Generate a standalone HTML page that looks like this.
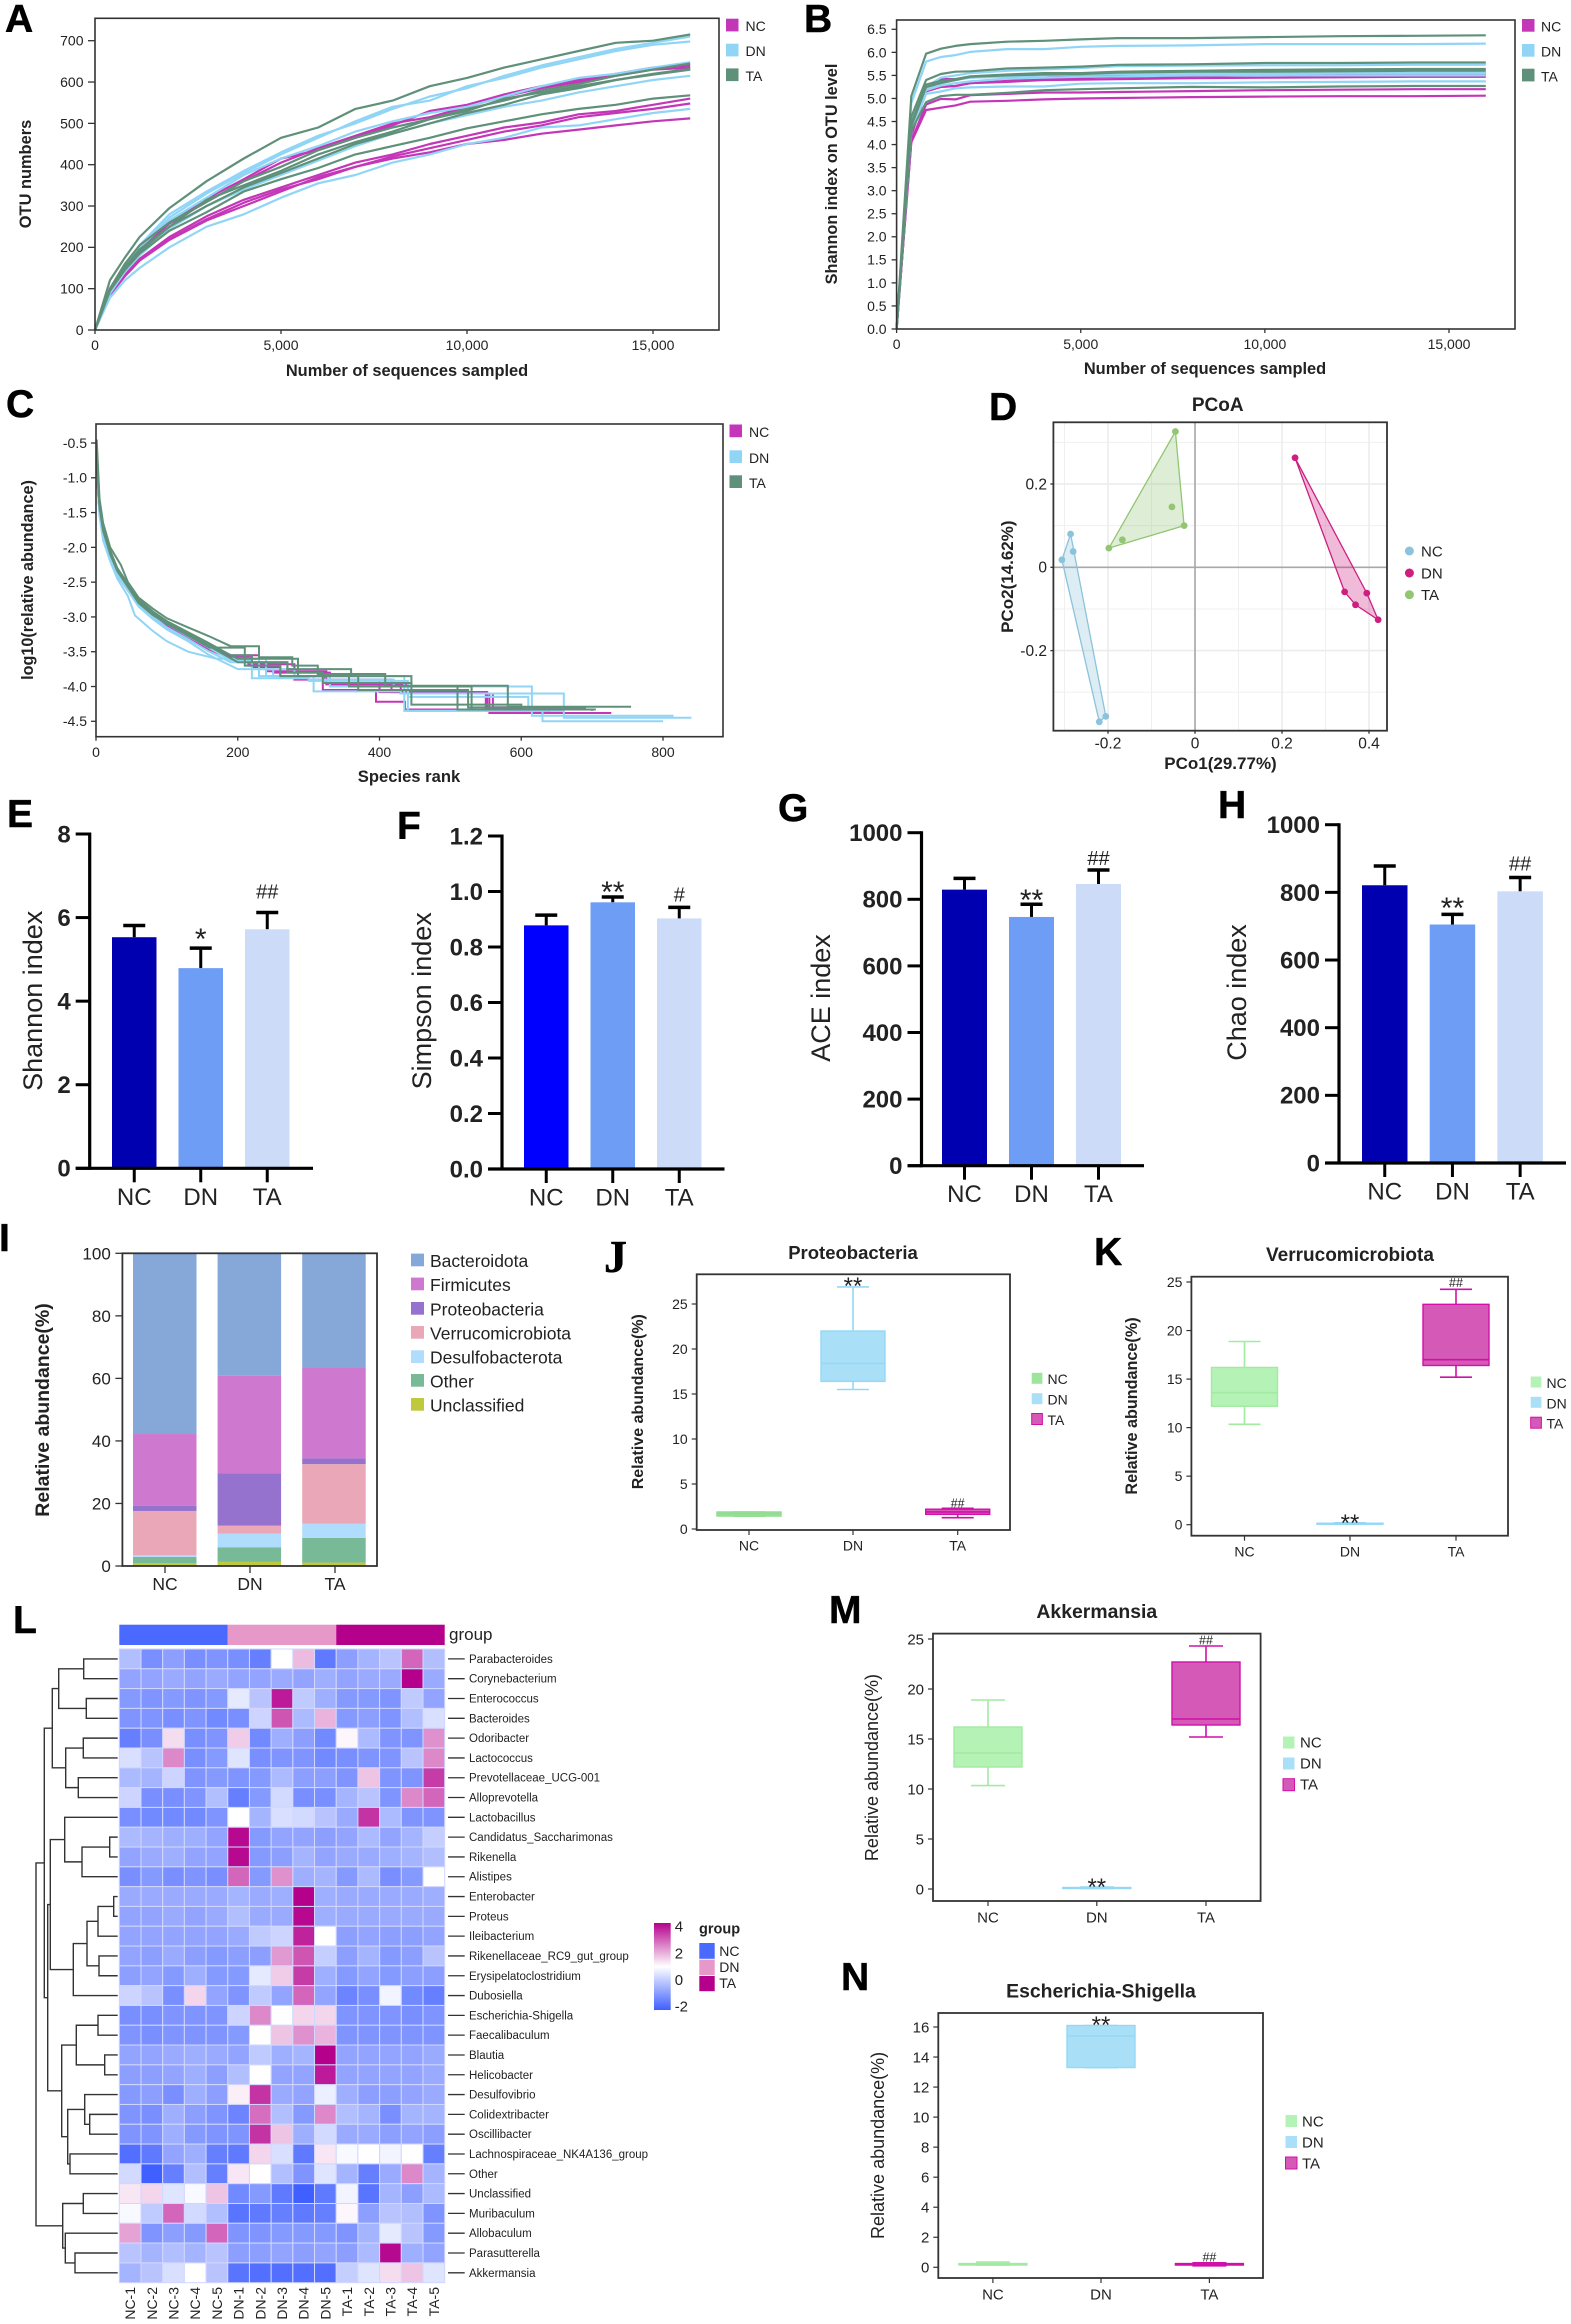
<!DOCTYPE html>
<html>
<head>
<meta charset="utf-8">
<title>Gut microbiota composite figure</title>
<style>
html,body{margin:0;padding:0;background:#fff}
svg{display:block}
text{font-family:"Liberation Sans",sans-serif;fill:#222}
.letter{font-size:39px;font-weight:bold;fill:#000;stroke:#000;stroke-width:.5px}
.tb{font-weight:bold}
.leg{dominant-baseline:central}
</style>
</head>
<body>
<svg id="figure" xmlns="http://www.w3.org/2000/svg" width="1571" height="2324" viewBox="0 0 1571 2324">
<defs>
<linearGradient id="heatGrad" x1="0" y1="0" x2="0" y2="1">
<stop offset="0" stop-color="#b5008c"/><stop offset="0.5" stop-color="#ffffff"/><stop offset="1" stop-color="#3f5fff"/>
</linearGradient>
</defs>

<!-- Panel letters -->
<text class="letter" x="5" y="32">A</text>
<text class="letter" x="804" y="32">B</text>
<text class="letter" x="6" y="417">C</text>
<text class="letter" x="989" y="420">D</text>
<text class="letter" x="7" y="827">E</text>
<text class="letter" x="397" y="839">F</text>
<text class="letter" x="778" y="821">G</text>
<text class="letter" x="1218" y="818">H</text>
<text class="letter" x="-1" y="1251">I</text>
<text class="letter" x="604" y="1272" style="font-family:'Liberation Serif',serif;font-size:46px">J</text>
<text class="letter" x="1094" y="1265">K</text>
<text class="letter" x="13" y="1633">L</text>
<text class="letter" x="829" y="1623">M</text>
<text class="letter" x="841" y="1990">N</text>

<!-- Panel A static -->
<g id="panelA">
<text class="tb" x="407" y="376" font-size="16.4" text-anchor="middle">Number of sequences sampled</text>
<text class="tb" transform="translate(31,174) rotate(-90)" font-size="16.4" text-anchor="middle">OTU numbers</text>
<rect x="726" y="18.7" width="12.5" height="12.7" fill="#c436b8"/>
<text class="leg" x="745.5" y="26" font-size="14">NC</text>
<rect x="726" y="43.7" width="12.5" height="12.7" fill="#90d5f6"/>
<text class="leg" x="745.5" y="51" font-size="14">DN</text>
<rect x="726" y="68.4" width="12.5" height="12.7" fill="#5f9079"/>
<text class="leg" x="745.5" y="76" font-size="14">TA</text>
</g>

<!-- Panel B static -->
<g id="panelB">
<text class="tb" x="1205" y="374" font-size="16.4" text-anchor="middle">Number of sequences sampled</text>
<text class="tb" transform="translate(837,174) rotate(-90)" font-size="16.3" text-anchor="middle">Shannon index on OTU level</text>
<rect x="1522" y="19" width="12.5" height="12.7" fill="#c436b8"/>
<text class="leg" x="1541" y="26.5" font-size="14">NC</text>
<rect x="1522" y="44" width="12.5" height="12.7" fill="#90d5f6"/>
<text class="leg" x="1541" y="51.5" font-size="14">DN</text>
<rect x="1522" y="68.7" width="12.5" height="12.7" fill="#5f9079"/>
<text class="leg" x="1541" y="76.5" font-size="14">TA</text>
</g>

<!-- Panel C static -->
<g id="panelC">
<text class="tb" x="409" y="782" font-size="16.6" text-anchor="middle">Species rank</text>
<text class="tb" transform="translate(33,580) rotate(-90)" font-size="16.2" text-anchor="middle">log10(relative abundance)</text>
<rect x="729.5" y="424.5" width="12.5" height="12.7" fill="#c436b8"/>
<text class="leg" x="749" y="432" font-size="14">NC</text>
<rect x="729.5" y="450.3" width="12.5" height="12.7" fill="#90d5f6"/>
<text class="leg" x="749" y="458" font-size="14">DN</text>
<rect x="729.5" y="475.3" width="12.5" height="12.7" fill="#5f9079"/>
<text class="leg" x="749" y="483" font-size="14">TA</text>
</g>

<!-- Panel D static -->
<g id="panelD">
<text class="tb" x="1217.7" y="411" font-size="19" text-anchor="middle">PCoA</text>
<text class="tb" x="1220.5" y="769" font-size="17" text-anchor="middle">PCo1(29.77%)</text>
<text class="tb" transform="translate(1013,576.7) rotate(-90)" font-size="17" text-anchor="middle">PCo2(14.62%)</text>
<circle cx="1409.4" cy="551" r="4.5" fill="#8cc3dc"/>
<text class="leg" x="1421" y="552" font-size="15">NC</text>
<circle cx="1409.4" cy="573" r="4.5" fill="#cc1f80"/>
<text class="leg" x="1421" y="574" font-size="15">DN</text>
<circle cx="1409.4" cy="594.7" r="4.5" fill="#93c573"/>
<text class="leg" x="1421" y="595.7" font-size="15">TA</text>
</g>

<!-- Bars static -->
<g id="panelE">
<text transform="translate(42,1000.8) rotate(-90)" font-size="27" text-anchor="middle">Shannon index</text>
</g>
<g id="panelF">
<text transform="translate(431,1000.8) rotate(-90)" font-size="27" text-anchor="middle">Simpson index</text>
</g>
<g id="panelG">
<text transform="translate(830,998) rotate(-90)" font-size="27" text-anchor="middle">ACE index</text>
</g>
<g id="panelH">
<text transform="translate(1246,992.5) rotate(-90)" font-size="27" text-anchor="middle">Chao index</text>
</g>

<!-- Panel I static -->
<g id="panelI">
<text class="tb" transform="translate(49,1410) rotate(-90)" font-size="19.5" text-anchor="middle">Relative abundance(%)</text>
<rect x="411" y="1253.6" width="13" height="12.7" fill="#86a8d9"/>
<text class="leg" x="430" y="1261" font-size="17.5">Bacteroidota</text>
<rect x="411" y="1277.6" width="13" height="12.7" fill="#cf78cf"/>
<text class="leg" x="430" y="1285" font-size="17.5">Firmicutes</text>
<rect x="411" y="1302" width="13" height="12.7" fill="#9572cd"/>
<text class="leg" x="430" y="1309.3" font-size="17.5">Proteobacteria</text>
<rect x="411" y="1326" width="13" height="12.7" fill="#e9a7b7"/>
<text class="leg" x="430" y="1333.3" font-size="17.5">Verrucomicrobiota</text>
<rect x="411" y="1350.3" width="13" height="12.7" fill="#b0dcfd"/>
<text class="leg" x="430" y="1357.7" font-size="17.5">Desulfobacterota</text>
<rect x="411" y="1374" width="13" height="12.7" fill="#78ba98"/>
<text class="leg" x="430" y="1381.3" font-size="17.5">Other</text>
<rect x="411" y="1398" width="13" height="12.7" fill="#bec93e"/>
<text class="leg" x="430" y="1405.3" font-size="17.5">Unclassified</text>
</g>

<!-- Panel J static -->
<g id="panelJ">
<text class="tb" x="853" y="1259" font-size="18.5" text-anchor="middle">Proteobacteria</text>
<text class="tb" transform="translate(643,1401.7) rotate(-90)" font-size="16" text-anchor="middle">Relative abundance(%)</text>
<rect x="1031.7" y="1372.8" width="10.7" height="11" fill="#9de49d"/>
<text class="leg" x="1047.5" y="1379" font-size="14">NC</text>
<rect x="1031.7" y="1393.2" width="10.7" height="11" fill="#aadff8"/>
<text class="leg" x="1047.5" y="1399.5" font-size="14">DN</text>
<rect x="1031.7" y="1413.5" width="10.7" height="11" fill="#d55ab8" stroke="#d010a8"/>
<text class="leg" x="1047.5" y="1420" font-size="14">TA</text>
</g>

<!-- Panel K static -->
<g id="panelK">
<text class="tb" x="1350" y="1261" font-size="19" text-anchor="middle">Verrucomicrobiota</text>
<text class="tb" transform="translate(1137,1406) rotate(-90)" font-size="16.2" text-anchor="middle">Relative abundance(%)</text>
<rect x="1530.7" y="1376.5" width="10.7" height="11" fill="#b5f2b5"/>
<text class="leg" x="1546.5" y="1383" font-size="14">NC</text>
<rect x="1530.7" y="1396.8" width="10.7" height="11" fill="#aadff8"/>
<text class="leg" x="1546.5" y="1403.3" font-size="14">DN</text>
<rect x="1530.7" y="1417.2" width="10.7" height="11" fill="#d55ab8" stroke="#d010a8"/>
<text class="leg" x="1546.5" y="1423.7" font-size="14">TA</text>
</g>

<!-- Panel L static -->
<g id="panelL">
<text x="449" y="1640" font-size="17">group</text>
<rect x="654" y="1923" width="16.7" height="87" fill="url(#heatGrad)"/>
<text class="leg" x="674.7" y="1927" font-size="15">4</text>
<text class="leg" x="674.7" y="1954" font-size="15">2</text>
<text class="leg" x="674.7" y="1980.6" font-size="15">0</text>
<text class="leg" x="674.7" y="2007" font-size="15">-2</text>
<text class="tb leg" x="699" y="1929.6" font-size="14.5">group</text>
<rect x="699.3" y="1943" width="15.4" height="15.8" fill="#4a6aff"/>
<text class="leg" x="719.3" y="1951" font-size="14">NC</text>
<rect x="699.3" y="1959.7" width="15.4" height="15.4" fill="#e698c8"/>
<text class="leg" x="719.3" y="1966.8" font-size="14">DN</text>
<rect x="699.3" y="1976" width="15.4" height="15.2" fill="#b5008c"/>
<text class="leg" x="719.3" y="1983" font-size="14">TA</text>
</g>

<!-- Panel M static -->
<g id="panelM">
<text class="tb" x="1096.8" y="1618" font-size="19.4" text-anchor="middle">Akkermansia</text>
<text transform="translate(878,1767.5) rotate(-90)" font-size="18" text-anchor="middle">Relative abundance(%)</text>
<rect x="1283" y="1736.5" width="11.5" height="12" fill="#b5f2b5"/>
<text class="leg" x="1300" y="1743" font-size="15">NC</text>
<rect x="1283" y="1757.5" width="11.5" height="12" fill="#aadff8"/>
<text class="leg" x="1300" y="1764" font-size="15">DN</text>
<rect x="1283" y="1778.7" width="11.5" height="12" fill="#d55ab8" stroke="#d010a8"/>
<text class="leg" x="1300" y="1785" font-size="15">TA</text>
</g>

<!-- Panel N static -->
<g id="panelN">
<text class="tb" x="1101" y="1997.5" font-size="19.4" text-anchor="middle">Escherichia-Shigella</text>
<text transform="translate(884,2145.4) rotate(-90)" font-size="18" text-anchor="middle">Relative abundance(%)</text>
<rect x="1285.5" y="2115" width="11.5" height="12" fill="#b5f2b5"/>
<text class="leg" x="1302" y="2122" font-size="15">NC</text>
<rect x="1285.5" y="2136" width="11.5" height="12" fill="#aadff8"/>
<text class="leg" x="1302" y="2143" font-size="15">DN</text>
<rect x="1285.5" y="2157" width="11.5" height="12" fill="#d55ab8" stroke="#d010a8"/>
<text class="leg" x="1302" y="2164" font-size="15">TA</text>
</g>
</svg>

<script>
/* ---------- DATA ---------- */
const sampleDepths=[0,400,800,1200,2000,3000,4000,5000,6000,7000,8000,9000,10000,11000,12000,13000,14000,15000,16000];
const otuNC=[
[0,100,155,200,260,318,365,415,435,465,495,530,545,570,590,605,620,635,640],
[0,98,150,195,258,310,360,405,440,470,500,515,540,565,585,600,615,630,635],
[0,90,135,172,225,275,315,345,375,405,425,450,470,490,502,522,530,545,560],
[0,88,132,170,220,268,308,340,365,395,420,440,460,480,495,515,525,535,548],
[0,85,130,168,218,265,300,335,370,395,415,430,450,460,475,485,495,505,512]];
const otuDN=[
[0,95,155,205,280,335,385,430,470,500,535,565,585,615,640,660,680,695,710],
[0,90,150,200,272,330,380,425,465,505,540,555,590,610,635,655,675,690,698],
[0,92,155,200,265,320,375,415,445,480,505,525,540,565,590,610,620,635,648],
[0,88,140,180,245,300,340,375,410,445,475,500,520,540,555,575,590,605,615],
[0,78,120,150,200,250,280,320,355,375,405,425,450,465,490,495,510,525,535]];
const otuTA=[
[0,120,175,225,295,360,415,465,490,535,555,590,610,635,655,675,695,700,715],
[0,100,160,205,260,310,360,395,435,465,490,510,535,555,580,595,615,630,645],
[0,98,152,195,250,315,350,385,425,455,480,510,530,560,575,590,605,620,632],
[0,95,150,190,250,300,345,380,415,450,475,500,525,545,570,585,605,618,630],
[0,95,145,185,240,285,335,365,392,425,445,465,488,505,522,535,545,560,568]];
const otuYTicks=[0,100,200,300,400,500,600,700];
const depthTicks=[0,5000,10000,15000];
const depthTickLabels=['0','5,000','10,000','15,000'];

const shannonDepths=[0,400,800,1200,1600,2000,3000,4000,5000,6000,8000,10000,12000,14000,16000];
const shanNC=[
[0,4.3,5.25,5.42,5.42,5.45,5.48,5.5,5.5,5.5,5.5,5.52,5.53,5.54,5.55],
[0,4.2,5.15,5.25,5.27,5.33,5.38,5.42,5.45,5.47,5.48,5.5,5.5,5.52,5.52],
[0,4.2,5.2,5.25,5.27,5.33,5.36,5.4,5.41,5.42,5.44,5.45,5.46,5.47,5.47],
[0,4.08,4.87,4.99,4.98,5.07,5.1,5.13,5.13,5.14,5.16,5.18,5.19,5.2,5.2],
[0,4.05,4.75,4.8,4.85,4.93,4.95,4.98,5,5.01,5.03,5.04,5.05,5.05,5.06]];
const shanDN=[
[0,4.9,5.8,5.9,5.94,6.01,6.07,6.07,6.12,6.14,6.15,6.18,6.18,6.18,6.19],
[0,4.5,5.25,5.45,5.5,5.55,5.6,5.63,5.66,5.7,5.71,5.72,5.72,5.73,5.73],
[0,4.4,5.2,5.35,5.4,5.45,5.47,5.5,5.52,5.53,5.54,5.54,5.55,5.55,5.55],
[0,4.3,5.18,5.28,5.33,5.37,5.43,5.45,5.47,5.48,5.5,5.5,5.5,5.5,5.5],
[0,4.3,5.1,5.15,5.22,5.24,5.26,5.26,5.32,5.33,5.33,5.35,5.36,5.37,5.37]];
const shanTA=[
[0,5.05,5.97,6.08,6.14,6.18,6.23,6.25,6.28,6.31,6.31,6.33,6.35,6.36,6.37],
[0,4.6,5.4,5.53,5.58,5.59,5.65,5.67,5.69,5.73,5.74,5.77,5.77,5.78,5.78],
[0,4.45,5.3,5.38,5.42,5.48,5.52,5.55,5.55,5.58,5.6,5.62,5.63,5.64,5.64],
[0,4.4,5.25,5.33,5.4,5.47,5.5,5.52,5.53,5.56,5.58,5.58,5.59,5.6,5.6],
[0,4.3,4.92,5.05,5.08,5.08,5.12,5.18,5.2,5.22,5.25,5.24,5.26,5.27,5.27]];
const shanYTicks=[0,0.5,1,1.5,2,2.5,3,3.5,4,4.5,5,5.5,6,6.5];
const shanYLabels=['0.0','0.5','1.0','1.5','2.0','2.5','3.0','3.5','4.0','4.5','5.0','5.5','6.0','6.5'];

const rankNC=[
[[1,-.8],[5,-1.5],[10,-1.85],[20,-2.15],[30,-2.4],[45,-2.62],[60,-2.82],[80,-3],[100,-3.13],[130,-3.3],[160,-3.47],[190,-3.6],[220,-3.72],[260,-3.85],[322,-3.95],[430,-4.1],[555,-4.38],[727,-4.38]],
[[1,-.9],[5,-1.45],[10,-1.8],[20,-2.1],[30,-2.35],[45,-2.6],[60,-2.8],[80,-2.97],[100,-3.1],[130,-3.27],[160,-3.45],[190,-3.58],[220,-3.7],[260,-3.85],[320,-4.05],[395,-4.22],[436,-4.33],[705,-4.33]],
[[1,-.85],[5,-1.4],[10,-1.75],[20,-2.05],[30,-2.3],[45,-2.55],[60,-2.78],[80,-2.95],[100,-3.08],[130,-3.25],[160,-3.4],[190,-3.55],[230,-3.68],[280,-3.9],[417,-4.08],[552,-4.3],[690,-4.33]],
[[1,-.95],[5,-1.5],[10,-1.8],[20,-2.1],[30,-2.35],[45,-2.58],[60,-2.8],[80,-2.98],[100,-3.12],[130,-3.28],[160,-3.42],[190,-3.58],[215,-3.68],[250,-3.8],[330,-3.9],[400,-4.08],[550,-4.35],[640,-4.38]],
[[1,-.9],[5,-1.48],[10,-1.82],[20,-2.12],[30,-2.38],[45,-2.6],[60,-2.82],[80,-3],[100,-3.14],[130,-3.3],[160,-3.45],[190,-3.6],[215,-3.7],[240,-3.78],[325,-3.97],[440,-4.1],[560,-4.3],[600,-4.38]]];
const rankDN=[
[[1,-.7],[5,-1.4],[10,-1.75],[20,-2.1],[30,-2.35],[45,-2.6],[60,-2.82],[80,-3],[100,-3.15],[130,-3.32],[160,-3.5],[190,-3.65],[220,-3.75],[250,-3.85],[307,-4.07],[430,-4.1],[660,-4.45],[840,-4.45]],
[[1,-.75],[5,-1.45],[10,-1.8],[20,-2.1],[30,-2.35],[45,-2.58],[60,-2.8],[80,-2.98],[100,-3.1],[130,-3.27],[160,-3.45],[190,-3.62],[220,-3.88],[300,-3.9],[420,-4],[615,-4.42],[815,-4.42]],
[[1,-.8],[5,-1.5],[10,-1.85],[20,-2.15],[30,-2.4],[45,-2.62],[60,-2.85],[80,-3.03],[100,-3.18],[130,-3.35],[160,-3.55],[200,-3.75],[280,-3.85],[435,-4.35],[630,-4.5],[800,-4.5]],
[[1,-.8],[5,-1.42],[10,-1.78],[20,-2.08],[30,-2.33],[45,-2.56],[60,-2.78],[80,-2.96],[100,-3.1],[130,-3.28],[160,-3.44],[190,-3.6],[230,-3.85],[300,-3.92],[440,-4.15],[610,-4.35],[660,-4.35]],
[[1,-.85],[5,-1.55],[10,-1.9],[20,-2.2],[30,-2.45],[45,-2.7],[55,-2.98],[80,-3.2],[100,-3.35],[130,-3.5],[170,-3.6],[240,-3.85],[330,-4],[440,-4.35],[630,-4.35]]];
const rankTA=[
[[1,-.45],[5,-1.3],[10,-1.65],[20,-2],[35,-2.25],[45,-2.5],[60,-2.72],[80,-2.88],[100,-3.02],[130,-3.15],[160,-3.28],[190,-3.42],[230,-3.58],[277,-3.7],[313,-3.82],[408,-3.99],[581,-4.29],[755,-4.29]],
[[1,-.6],[5,-1.35],[10,-1.7],[20,-2.05],[30,-2.3],[45,-2.52],[60,-2.75],[80,-2.92],[100,-3.06],[130,-3.22],[160,-3.38],[190,-3.55],[220,-3.65],[270,-3.75],[360,-3.85],[445,-4],[530,-4.33],[705,-4.33]],
[[1,-.65],[5,-1.38],[10,-1.72],[20,-2.05],[30,-2.32],[45,-2.55],[60,-2.76],[80,-2.94],[100,-3.08],[130,-3.25],[160,-3.4],[200,-3.6],[285,-3.85],[357,-4],[510,-4.33],[700,-4.35]],
[[1,-.7],[5,-1.4],[10,-1.74],[20,-2.08],[30,-2.33],[45,-2.56],[60,-2.78],[80,-2.96],[100,-3.1],[130,-3.26],[160,-3.42],[200,-3.65],[270,-3.8],[320,-3.95],[445,-4.26],[600,-4.28]],
[[1,-.7],[5,-1.42],[10,-1.76],[20,-2.1],[30,-2.34],[45,-2.57],[60,-2.8],[80,-2.97],[100,-3.1],[130,-3.27],[160,-3.44],[210,-3.7],[260,-3.85],[370,-4.05],[525,-4.3],[690,-4.34]]];
const rankYTicks=[-0.5,-1,-1.5,-2,-2.5,-3,-3.5,-4,-4.5];
const rankYLabels=['-0.5','-1.0','-1.5','-2.0','-2.5','-3.0','-3.5','-4.0','-4.5'];
const rankXTicks=[0,200,400,600,800];

const pcoaNC=[[-.286,.08],[-.28,.038],[-.306,.018],[-.22,-.371],[-.205,-.358]];
const pcoaDN=[[.23,.263],[.421,-.126],[.395,-.062],[.369,-.09],[.344,-.059]];
const pcoaTA=[[-.045,.326],[-.025,.1],[-.053,.145],[-.167,.066],[-.198,.046]];
const pcoaXMajor=[-0.2,0,0.2,0.4];
const pcoaXLabels=['-0.2','0','0.2','0.4'];
const pcoaYMajor=[0.2,0,-0.2];
const pcoaYLabels=['0.2','0','-0.2'];
const pcoaXMinor=[-0.3,-0.1,0.1,0.3];
const pcoaYMinor=[0.3,0.1,-0.1,-0.3];

const groups=['NC','DN','TA'];
const shannonMeans=[5.53,4.79,5.72];
const shannonUpper=[5.81,5.27,6.12];
const shannonMarks=['','*','##'];
const simpsonMeans=[0.878,0.961,0.903];
const simpsonUpper=[0.915,0.98,0.943];
const simpsonMarks=['','**','#'];
const aceMeans=[829,747,846];
const aceUpper=[863,785,888];
const aceMarks=['','**','##'];
const chaoMeans=[821,705,803];
const chaoUpper=[878,735,844];
const chaoMarks=['','**','##'];
const shannonTicks=[0,2,4,6,8];
const simpsonTicks=[0,0.2,0.4,0.6,0.8,1,1.2];
const simpsonLabels=['0.0','0.2','0.4','0.6','0.8','1.0','1.2'];
const richTicks=[0,200,400,600,800,1000];

const phyla=['Unclassified','Other','Desulfobacterota','Verrucomicrobiota','Proteobacteria','Firmicutes','Bacteroidota'];
const stackNC=[0.9,2.0,0.5,14.2,1.7,22.9,57.8];
const stackDN=[1.3,4.7,4.4,2.5,16.7,31.2,39.2];
const stackTA=[1.1,7.9,4.5,19.1,1.8,29.1,36.5];
const stackTicks=[0,20,40,60,80,100];

/* box stats: low, q1, median, q3, high */
const proteoNC=[1.44,1.44,1.7,1.89,1.89];
const proteoDN=[15.5,16.4,18.4,22.0,26.9];
const proteoTA=[1.26,1.63,1.9,2.2,2.3];
const verrucoNC=[10.34,12.2,13.6,16.2,18.87];
const verrucoDN=[0.05,0.05,0.1,0.15,0.2];
const verrucoTA=[15.2,16.4,17.0,22.7,24.25];
const akkerNC=[10.34,12.2,13.6,16.2,18.9];
const akkerDN=[0.05,0.05,0.1,0.15,0.2];
const akkerTA=[15.2,16.4,17.0,22.7,24.3];
const escherNC=[0.15,0.15,0.2,0.25,0.35];
const escherDN=[13.3,13.3,15.4,16.1,16.1];
const escherTA=[0.1,0.15,0.2,0.25,0.3];
const ticks25=[0,5,10,15,20,25];
const ticks16=[0,2,4,6,8,10,12,14,16];

const genera=['Parabacteroides','Corynebacterium','Enterococcus','Bacteroides','Odoribacter','Lactococcus','Prevotellaceae_UCG-001','Alloprevotella','Lactobacillus','Candidatus_Saccharimonas','Rikenella','Alistipes','Enterobacter','Proteus','Ileibacterium','Rikenellaceae_RC9_gut_group','Erysipelatoclostridium','Dubosiella','Escherichia-Shigella','Faecalibaculum','Blautia','Helicobacter','Desulfovibrio','Colidextribacter','Oscillibacter','Lachnospiraceae_NK4A136_group','Other','Unclassified','Muribaculum','Allobaculum','Parasutterella','Akkermansia'];
const samples=['NC-1','NC-2','NC-3','NC-4','NC-5','DN-1','DN-2','DN-3','DN-4','DN-5','TA-1','TA-2','TA-3','TA-4','TA-5'];
const heatValues=[
[-.2,-1.1,-.8,-1.1,-1,-1.1,-1.4,1,1.8,-1.5,-.8,-.4,-.1,2.8,-.2],
[-.7,-.7,-.6,-.7,-.6,-.7,-.7,-.6,-.7,-.5,-.7,-.6,-.6,4,-.6],
[-.9,-1,-.9,-1,-.9,.6,-.1,3.7,0,-.5,-.9,-.9,-1,0,-.7],
[-1,-1,-1.1,-1,-1.2,-1.1,.2,3,-.3,1.9,-.9,-.8,-1,-.2,.4],
[-1.4,-1.1,1.4,-1.1,-1,1.6,-1.2,-.5,-.8,-1.2,1.1,-.3,-1,-1,2.3],
[.4,-.1,2.4,-1.1,-.9,.5,-1.1,-1,-1,-1.2,-1.1,-1,-1,-.1,2.4],
[-.3,-.4,.2,-1,-.9,-1,-.9,-.3,-.8,-.8,-1,1.7,-1,-1,3.3],
[.2,-1.1,-1.1,-1,-.2,-1.4,-.9,.3,-1.1,-1.1,-.4,-.1,-1,2.4,2.8],
[-1.1,-1.2,-1.2,-1.2,-1,1,-.4,.4,.3,-.1,-.6,3.4,-.3,-1,-1],
[-.3,-.4,-.5,-.5,-.7,3.9,-.9,-.7,-.7,-.8,-.7,-.3,-.7,-.4,.1],
[-.7,-.6,-.5,-.7,-.7,3.9,-.9,-.8,-.4,-.7,-.6,-.6,-.5,-.4,-.2],
[-1.1,-.9,-1.1,-1,-1.1,2.8,-.9,2.3,-.5,-.4,-.9,-.3,-1.1,-.9,1],
[-.6,-.6,-.6,-.6,-.6,-.4,-.6,-.5,4,-.5,-.6,-.6,-.6,-.6,-.5],
[-.7,-.7,-.6,-.7,-.6,-.2,-.6,-.6,3.9,-.5,-.6,-.6,-.6,-.6,-.6],
[-.7,-.7,-.7,-.7,-.7,-.6,0,.2,3.6,1,-.8,-.7,-.8,-.8,-.7],
[-.7,-.8,-.6,-.8,-.9,-.8,-.8,2.2,3,.1,-.8,-.4,-.9,-.8,-.1],
[-.8,-.7,-.9,-.5,-.9,-.9,.6,1.6,3.3,-.5,-.9,-.7,-.9,-.8,-.8],
[.2,-.1,-1.1,1.5,-.7,-1,0,-.7,2.8,-.7,-1.3,-1.1,.8,-1.2,-1.4],
[-1.1,-1.1,-1,-1,-1,.2,2.4,1,1.5,1.5,-1,-1,-1,-1.1,-1],
[-1,-1.1,-1,-1,-1,-.9,1,1.7,2.3,1.9,-1,-1,-1,-1,-1],
[-.7,-.7,-.6,-.5,-.6,-.7,0,-.5,-.4,4,-.7,-.7,-.7,-.7,-.6],
[-.8,-.8,-.7,-.5,-.8,-.2,1,-.7,-.7,3.7,-.7,-.7,-.7,-.7,-.6],
[-.9,-.8,-1.1,-.5,-.8,1.2,3.4,-.6,-.7,.7,-.5,-.8,-.8,-.7,-.6],
[-1,-1.1,-.5,-.8,-1,-1.3,2.7,-.2,-.9,2.4,-.2,-.4,-1.1,-.4,-.4],
[-1,-1,-.5,-.9,-1,-1,3.4,1.7,-.5,.3,-.6,-.6,-.8,-.7,-.8],
[-1.7,-1.5,-.7,-.5,-1.4,-1.5,1.5,.4,-1.5,1.3,.9,1,.8,1,-1.4],
[.3,-2,-1.4,-.2,-1.4,1.3,1,-.2,-1,.5,-.4,-1.4,-.6,2.4,-.4],
[1.3,1.5,.5,.9,1.7,-1.2,-.9,-1.5,-2,-1.5,.8,-1.6,-.4,-.8,-.3],
[.9,0,2.8,.3,-.2,-1.6,-1.5,-1.4,-1.5,-1.4,1.1,-.8,-.1,-.2,-1],
[2.1,-1,-.8,-.9,2.8,-1,-1,-.9,-.9,-.9,-1,-.4,.6,-.1,-.9],
[-.1,-.4,-.2,-.4,-.1,-.8,-.8,-.7,-.8,-.7,-.8,-.3,3.9,-.5,-.7],
[-.4,-.1,.4,1,-.1,-1.6,-1.7,-1.7,-1.7,-1.7,.1,.5,1.4,1.7,.5]];
/* dendrogram: [merge height, left, right]; leaves are row indexes */
const rowTree=[81.7,
 [73.4,
  [65.4,[59,[34,0,1],[31.4,2,3]],[52,[34.4,4,5],[39.4,6,7]]],
  [70,
   [67.4,[53,8,[35.7,[8,9,10],11]],[44.4,[30.7,[19.7,[4,12,13],14],[18.7,15,16]],17]],
   [56,[41.4,[19.7,18,19],[13,20,21]],[50,[33,22,[28,23,24]],[47.7,25,26]]]
  ]
 ],
 [55,[34.4,27,28],[52.4,29,[42.7,30,31]]]
];

/* ---------- HELPERS ---------- */
const NS='http://www.w3.org/2000/svg';
function add(parent,tag,attrs,txt){
  const n=document.createElementNS(NS,tag);
  for(const k in attrs)n.setAttribute(k,attrs[k]);
  if(txt!==undefined)n.textContent=txt;
  parent.appendChild(n);
  return n;
}
function linear(d0,d1,r0,r1){return v=>r0+(v-d0)*(r1-r0)/(d1-d0);}
const $=id=>document.getElementById(id);

function frame(g,left,top,right,bottom,stroke,w){
  const el=add(g,'rect',{x:left,y:top,width:right-left,height:bottom-top,fill:'none',stroke:stroke||'#333','stroke-width':w||1.6});
  
  
}
function yAxis(g,ticks,labels,y,axisX,labelX,len,fs,color,w,weight){
  ticks.forEach((t,i)=>{
    const ln=add(g,'line',{x1:axisX-len,x2:axisX,y1:y(t),y2:y(t),stroke:color||'#333','stroke-width':w||1.3});
    
    
    const tx=add(g,'text',{x:labelX,y:y(t)+fs*0.35,'font-size':fs,'text-anchor':'end','font-weight':weight||'normal'},labels?labels[i]:String(t));
    
    
  });
}
function xAxis(g,ticks,labels,x,axisY,labelY,len,fs,color,w){
  ticks.forEach((t,i)=>{
    const ln=add(g,'line',{x1:x(t),x2:x(t),y1:axisY,y2:axisY+len,stroke:color||'#333','stroke-width':w||1.3});
    
    
    const tx=add(g,'text',{x:x(t),y:labelY+fs*0.35,'font-size':fs,'text-anchor':'middle'},labels?labels[i]:String(t));
    
    
  });
}
function drawCurves(g,xs,sets,x,y,colors,names){
  sets.forEach((set,si)=>{
    set.forEach((vals,i)=>{
      const d=vals.map((v,k)=>(k?'L':'M')+x(xs[k]).toFixed(1)+' '+y(v).toFixed(1)).join(' ');
      const p=add(g,'path',{d:d,fill:'none',stroke:colors[si],'stroke-width':2.2,'stroke-linejoin':'round'});
      
      
    });
  });
}
function drawSteps(g,sets,x,y,colors,names){
  sets.forEach((set,si)=>{
    set.forEach((pts,i)=>{
      let d='M'+x(pts[0][0]).toFixed(1)+' '+y(pts[0][1]).toFixed(1);
      for(let k=1;k<pts.length;k++){
        if(pts[k][0]<=200){
          d+=' L'+x(pts[k][0]).toFixed(1)+' '+y(pts[k][1]).toFixed(1);
        }else{
          d+=' H'+x(pts[k][0]).toFixed(1)+' V'+y(pts[k][1]).toFixed(1);
        }
      }
      const p=add(g,'path',{d:d,fill:'none',stroke:colors[si],'stroke-width':2});
      
      
    });
  });
}
function hull(points){
  const p=points.slice().sort((a,b)=>a[0]-b[0]||a[1]-b[1]);
  const cross=(o,a,b)=>(a[0]-o[0])*(b[1]-o[1])-(a[1]-o[1])*(b[0]-o[0]);
  const lo=[],up=[];
  for(const q of p){while(lo.length>1&&cross(lo[lo.length-2],lo[lo.length-1],q)<=0)lo.pop();lo.push(q);}
  for(const q of p.slice().reverse()){while(up.length>1&&cross(up[up.length-2],up[up.length-1],q)<=0)up.pop();up.push(q);}
  return lo.slice(0,-1).concat(up.slice(0,-1));
}
function marker(g,str,cx,cy,fs){
  const off=str.indexOf('*')>=0?0.59:0.35;
  const t=add(g,'text',{x:cx,y:cy+off*fs,'font-size':fs,'text-anchor':'middle'},str);
  
  
}
function drawBarPanel(g,cfg){
  const y=cfg.y;
  cfg.means.forEach((v,i)=>{
    const left=cfg.x0+i*cfg.step;
    const cx=left+cfg.width/2;
    const stem=add(g,'line',{x1:cx,x2:cx,y1:y(cfg.upper[i]),y2:y(v),stroke:'#000','stroke-width':3});
    
    
    const cap=add(g,'line',{x1:cx-11,x2:cx+11,y1:y(cfg.upper[i]),y2:y(cfg.upper[i]),stroke:'#000','stroke-width':3.5});
    
    
    const b=add(g,'rect',{x:left,y:y(v),width:cfg.width,height:y(0)-y(v),fill:cfg.colors[i]});
    
    
    const tk=add(g,'line',{x1:cx,x2:cx,y1:y(0),y2:y(0)+14,stroke:'#000','stroke-width':3});
    
    
    const lb=add(g,'text',{x:cx,y:y(0)+28+8.5,'font-size':24,'text-anchor':'middle'},groups[i]);
    
    
    if(cfg.marks[i]){marker(g,cfg.marks[i],cx,cfg.markY(cfg.upper[i]),cfg.marks[i].indexOf('*')>=0?30:20);}
  });
  const ya=add(g,'line',{x1:cfg.axisX,x2:cfg.axisX,y1:y(cfg.maxTick)-1.5,y2:y(0)+1.5,stroke:'#000','stroke-width':3.2});
  
  
  const xa=add(g,'line',{x1:cfg.axisX-14,x2:cfg.axisEnd,y1:y(0),y2:y(0),stroke:'#000','stroke-width':3.2});
  
  
  yAxis(g,cfg.ticks,cfg.labels,y,cfg.axisX,cfg.axisX-19,14,24,'#000',3,'bold');
}
function drawBox(g,stats,cx,halfW,capW,y,fill,stroke,name){
  const [lo,q1,med,q3,hi]=stats;
  const w1=add(g,'line',{x1:cx,x2:cx,y1:y(hi),y2:y(q3),stroke:stroke,'stroke-width':1.6});
  
  
  const w2=add(g,'line',{x1:cx,x2:cx,y1:y(q1),y2:y(lo),stroke:stroke,'stroke-width':1.6});
  
  
  const c1=add(g,'line',{x1:cx-capW,x2:cx+capW,y1:y(hi),y2:y(hi),stroke:stroke,'stroke-width':1.6});
  
  
  const c2=add(g,'line',{x1:cx-capW,x2:cx+capW,y1:y(lo),y2:y(lo),stroke:stroke,'stroke-width':1.6});
  
  
  const b=add(g,'rect',{x:cx-halfW,y:y(q3),width:halfW*2,height:Math.max(y(q1)-y(q3),1),fill:fill,stroke:stroke,'stroke-width':1.4});
  
  
  const m=add(g,'line',{x1:cx-halfW,x2:cx+halfW,y1:y(med),y2:y(med),stroke:stroke,'stroke-width':1.6});
  
  
}
function drawBoxPanel(g,cfg){
  frame(g,cfg.left,cfg.top,cfg.right,cfg.bottom,'#333',1.8);
  const fills=[cfg.ncFill||'#b5f2b5','#aadff8','#d55ab8'];
  const strokes=[cfg.ncStroke||'#a2eaa2','#95d8f5','#d010a8'];
  cfg.boxes.forEach((s,i)=>{
    drawBox(g,s,cfg.cx[i],cfg.halfW,cfg.capW,cfg.y,fills[i],strokes[i],groups[i]);
  });
  yAxis(g,cfg.ticks,null,cfg.y,cfg.left,cfg.left-9,5,cfg.fs,'#333',1.2);
  cfg.cx.forEach((c,i)=>{
    const tk=add(g,'line',{x1:c,x2:c,y1:cfg.bottom,y2:cfg.bottom+5,stroke:'#333','stroke-width':1.2});
    
    
    const tx=add(g,'text',{x:c,y:cfg.catY+cfg.fs*0.35,'font-size':cfg.fs,'text-anchor':'middle'},groups[i]);
    
    
    if(cfg.marks[i]){marker(g,cfg.marks[i],c,cfg.markY[i],cfg.marks[i].indexOf('*')>=0?24:12.5);}
  });
}

/* ---------- PANEL A ---------- */
const curveColors=['#c436b8','#90d5f6','#5f9079'];
(function(){
  const g=$('panelA');
  const x=linear(0,15000,95,653), y=linear(0,700,330,40.7);
  drawCurves(g,sampleDepths,[otuNC,otuDN,otuTA],x,y,curveColors,['nc','dn','ta']);
  frame(g,95,18.3,719,330);
  yAxis(g,otuYTicks,null,y,95,83.5,7,14);
  xAxis(g,depthTicks,depthTickLabels,x,330,345,4,14);
})();
/* ---------- PANEL B ---------- */
(function(){
  const g=$('panelB');
  const x=linear(0,15000,896.6,1449), y=linear(0,6.5,329,29.3);
  drawCurves(g,shannonDepths,[shanNC,shanDN,shanTA],x,y,curveColors,['nc','dn','ta']);
  frame(g,896.6,20,1515,329);
  yAxis(g,shanYTicks,shanYLabels,y,896.6,886.6,5,14);
  xAxis(g,depthTicks,depthTickLabels,x,329,344,4,14);
})();
/* ---------- PANEL C ---------- */
(function(){
  const g=$('panelC');
  const x=linear(0,800,96,663), y=linear(-0.5,-4.5,443,721.3);
  drawSteps(g,[rankNC,rankDN,rankTA],x,y,curveColors,['nc','dn','ta']);
  frame(g,96,424,723,736.7);
  yAxis(g,rankYTicks,rankYLabels,y,96,87,5,14);
  xAxis(g,rankXTicks,null,x,736.7,752,4,14);
})();
/* ---------- PANEL D ---------- */
(function(){
  const g=$('panelD');
  const L=1053.4,R=1387,T=422.3,B=730.7;
  const x=linear(0,0.2,1195,1282), y=linear(0,0.2,567.3,484);
  pcoaXMinor.forEach(v=>{
    const l=add(g,'line',{x1:x(v),x2:x(v),y1:T,y2:B,stroke:'#f0f0f0','stroke-width':1});
    
    
  });
  pcoaYMinor.forEach(v=>{
    const l=add(g,'line',{x1:L,x2:R,y1:y(v),y2:y(v),stroke:'#f0f0f0','stroke-width':1});
    
    
  });
  pcoaXMajor.forEach(v=>{
    const l=add(g,'line',{x1:x(v),x2:x(v),y1:T,y2:B,stroke:'#ececec','stroke-width':1.6});
    
    
  });
  pcoaYMajor.forEach(v=>{
    const l=add(g,'line',{x1:L,x2:R,y1:y(v),y2:y(v),stroke:'#ececec','stroke-width':1.6});
    
    
  });
  const h0=add(g,'line',{x1:L,x2:R,y1:y(0),y2:y(0),stroke:'#a8a8a8','stroke-width':1.6});
  
  
  const v0=add(g,'line',{x1:x(0),x2:x(0),y1:T,y2:B,stroke:'#a8a8a8','stroke-width':1.6});
  
  
  const sets=[[pcoaNC,'#8cc3dc','nc'],[pcoaDN,'#cc1f80','dn'],[pcoaTA,'#93c573','ta']];
  sets.forEach(([pts,col,nm])=>{
    const poly=add(g,'polygon',{points:hull(pts).map(p=>x(p[0]).toFixed(1)+','+y(p[1]).toFixed(1)).join(' '),fill:col,'fill-opacity':0.3,stroke:col,'stroke-width':1.3});
    
    
    pts.forEach(p=>{
      const c=add(g,'circle',{cx:x(p[0]),cy:y(p[1]),r:3.4,fill:col});
      
      
    });
  });
  frame(g,L,T,R,B,'#333',1.8);
  yAxis(g,pcoaYMajor,pcoaYLabels,y,L,1047,3,15.5);
  xAxis(g,pcoaXMajor,pcoaXLabels,x,B,743,3,15.5);
})();
/* ---------- PANELS E-H ---------- */
drawBarPanel($('panelE'),{y:linear(0,8,1168.3,834),means:shannonMeans,upper:shannonUpper,marks:shannonMarks,
  x0:112,step:66.5,width:44.5,axisX:89.7,axisEnd:313,ticks:shannonTicks,maxTick:8,colors:['#0000b0','#6e9df5','#ccdcf8'],markY:u=>linear(0,8,1168.3,834)(u)-(u>5.5?21:17)});
drawBarPanel($('panelF'),{y:linear(0,1.2,1169,836),means:simpsonMeans,upper:simpsonUpper,marks:simpsonMarks,labels:simpsonLabels,
  x0:524,step:66.5,width:44.5,axisX:502,axisEnd:724.5,ticks:simpsonTicks,maxTick:1.2,colors:['#0000ff','#6e9df5','#ccdcf8'],markY:u=>linear(0,1.2,1169,836)(u)-13});
drawBarPanel($('panelG'),{y:linear(0,1000,1165.7,832.7),means:aceMeans,upper:aceUpper,marks:aceMarks,
  x0:942,step:67,width:45,axisX:921.5,axisEnd:1144,ticks:richTicks,maxTick:1000,colors:['#0000b0','#6e9df5','#ccdcf8'],markY:u=>linear(0,1000,1165.7,832.7)(u)-12});
drawBarPanel($('panelH'),{y:linear(0,1000,1163,824.7),means:chaoMeans,upper:chaoUpper,marks:chaoMarks,
  x0:1362,step:67.7,width:45.5,axisX:1339,axisEnd:1566,ticks:richTicks,maxTick:1000,colors:['#0000b0','#6e9df5','#ccdcf8'],markY:u=>linear(0,1000,1163,824.7)(u)-14});
/* ---------- PANEL I ---------- */
(function(){
  const g=$('panelI');
  const y=linear(0,100,1566,1253.3);
  const cols=['#bec93e','#78ba98','#b0dcfd','#e9a7b7','#9572cd','#cf78cf','#86a8d9'];
  [stackNC,stackDN,stackTA].forEach((vals,i)=>{
    const left=133+i*84.6;
    let acc=0;
    vals.forEach((v,k)=>{
      const r=add(g,'rect',{x:left,y:y(acc+v),width:63.5,height:y(acc)-y(acc+v),fill:cols[k]});
      
      
      acc+=v;
    });
  });
  frame(g,122.4,1253.3,377,1566,'#333',1.8);
  yAxis(g,stackTicks,null,y,122.4,110.8,7,17);
  const xc=linear(0,1,165,250);
  xAxis(g,[0,1,2],groups,xc,1566,1584,7,17.5);
})();
/* ---------- PANELS J K M N ---------- */
drawBoxPanel($('panelJ'),{left:696.7,right:1010,top:1274.3,bottom:1530,y:linear(0,25,1529,1304),ticks:ticks25,boxes:[proteoNC,proteoDN,proteoTA],
  cx:[749,853,957.7],halfW:32,capW:16,fs:14,catY:1545.7,marks:['','**','##'],markY:[0,1280,1503],ncFill:'#9de49d',ncStroke:'#8fdc8f'});
drawBoxPanel($('panelK'),{left:1191.4,right:1508,top:1276.7,bottom:1535.7,y:linear(0,25,1524.7,1282),ticks:ticks25,boxes:[verrucoNC,verrucoDN,verrucoTA],
  cx:[1244.5,1350,1456],halfW:33,capW:16,fs:14,catY:1551.7,marks:['','**','##'],markY:[0,1517,1282.7]});
drawBoxPanel($('panelM'),{left:933,right:1260.6,top:1633.6,bottom:1901,y:linear(0,25,1889,1639),ticks:ticks25,boxes:[akkerNC,akkerDN,akkerTA],
  cx:[988,1096.8,1206],halfW:34,capW:17,fs:15,catY:1917.4,marks:['','**','##'],markY:[0,1881,1640]});
drawBoxPanel($('panelN'),{left:938.3,right:1263,top:2013,bottom:2278,y:linear(0,16,2267.3,2027),ticks:ticks16,boxes:[escherNC,escherDN,escherTA],
  cx:[992.9,1101,1209.4],halfW:34,capW:17,fs:15,catY:2294,marks:['','**','##'],markY:[0,2019,2257]});
/* ---------- PANEL L ---------- */
(function(){
  const g=$('panelL');
  const L=119.3,R=444.7,T=1649,B=2282.7;
  const cw=(R-L)/samples.length, rh=(B-T)/genera.length;
  const rowY=i=>T+rh*(i+0.5);
  const blue=[63,95,255], white=[255,255,255], mag=[181,0,140];
  const heatColor=v=>{
    let a,b,t;
    if(v<1){a=white;b=blue;t=Math.min(1,(1-v)/3);}
    else{a=white;b=mag;t=Math.min(1,(v-1)/3);}
    return 'rgb('+a.map((c,i)=>Math.round(c+(b[i]-c)*t)).join(',')+')';
  };
  const groupCols=['#4a6aff','#e698c8','#b5008c'];
  groups.forEach((gr,i)=>{
    const r=add(g,'rect',{x:L+i*5*cw,y:1624.7,width:5*cw,height:20.3,fill:groupCols[i]});
    
    
  });
  heatValues.forEach((row,ri)=>{
    row.forEach((v,ci)=>{
      const c=add(g,'rect',{x:L+ci*cw,y:T+ri*rh,width:cw,height:rh,fill:heatColor(v),stroke:'#d2d7ff','stroke-width':1});
      
      
    });
  });
  genera.forEach((name,i)=>{
    const ln=add(g,'line',{x1:448,x2:464.7,y1:rowY(i),y2:rowY(i),stroke:'#333','stroke-width':1.3});
    
    
    const t=add(g,'text',{x:469,y:rowY(i)+4,'font-size':11.5},name);
    
    
  });
  samples.forEach((s,i)=>{
    const cx=L+cw*(i+0.5);
    const t=add(g,'text',{transform:'translate('+(cx+5)+',2287) rotate(-90)','font-size':14,'text-anchor':'end'},s);
    
    
  });
  const hx=linear(0,81.7,117.7,36);
  function walk(node){
    if(typeof node==='number')return {x:117.7,y:rowY(node)};
    const a=walk(node[1]), b=walk(node[2]), X=hx(node[0]);
    const p=add(g,'path',{d:'M'+a.x+' '+a.y+' H'+X+' V'+b.y+' H'+b.x,fill:'none',stroke:'#333','stroke-width':1.4});
    
    
    return {x:X,y:(a.y+b.y)/2};
  }
  walk(rowTree);
})();
</script>
</body>
</html>
